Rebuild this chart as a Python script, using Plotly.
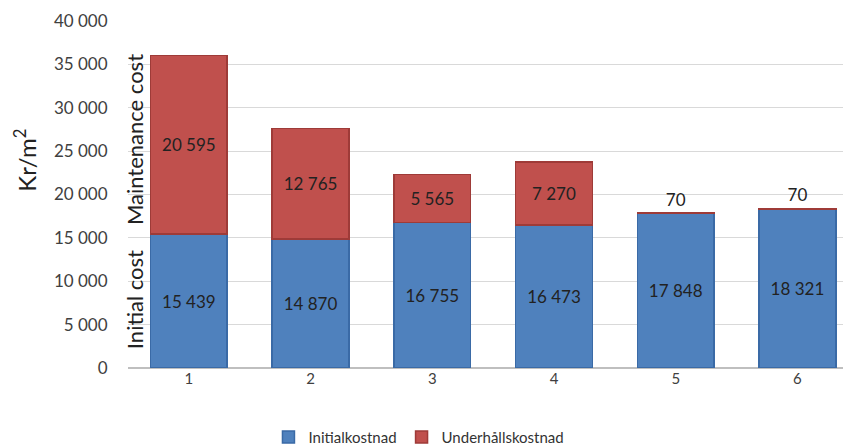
import plotly.graph_objects as go

categories = ["1", "2", "3", "4", "5", "6"]
initial = [15439, 14870, 16755, 16473, 17848, 18321]
maintenance = [20595, 12765, 5565, 7270, 70, 70]
series_names = ["Initialkostnad", "Underhållskostnad"]
y_ticks = [0, 5000, 10000, 15000, 20000, 25000, 30000, 35000, 40000]


def fmt(v):
    return f"{v:,}".replace(",", " ")


x_pos = list(range(1, len(categories) + 1))
FONT = "Lato, Open Sans, sans-serif"

fig = go.Figure()
fig.add_trace(go.Bar(
    x=x_pos, y=initial, name=series_names[0],
    marker=dict(color="#4F81BD", line=dict(color="#3A6AA6", width=1.5)),
    text=[fmt(v) for v in initial], textposition="inside", insidetextanchor="middle",
    textfont=dict(size=17, color="#222222", family=FONT),
    width=0.63,
))
fig.add_trace(go.Bar(
    x=x_pos, y=maintenance, name=series_names[1],
    marker=dict(color="#C0504D", line=dict(color="#9E3B38", width=1.5)),
    text=[fmt(v) for v in maintenance],
    textposition=["inside" if v > 1000 else "outside" for v in maintenance],
    insidetextanchor="middle",
    textfont=dict(size=17, color="#222222", family=FONT),
    width=0.63, cliponaxis=False,
))

fig.update_layout(
    barmode="stack",
    width=843, height=438,
    margin=dict(l=120, r=0, t=13, b=78, autoexpand=False),
    plot_bgcolor="white", paper_bgcolor="white",
    font=dict(family=FONT, color="#404040"),
    uniformtext=dict(minsize=17, mode="show"),
    showlegend=True,
    legend=dict(orientation="h", xref="container", yref="container",
                x=0.4875, xanchor="center", y=0.02, yanchor="middle",
                font=dict(size=15, color="#333333"), traceorder="normal",
                itemwidth=30, tracegroupgap=0),
    xaxis=dict(range=[0.5, 6.44], tickvals=x_pos, ticktext=categories,
               showgrid=False, zeroline=False, showline=False,
               tickfont=dict(size=15, color="#404040"), ticks=""),
    yaxis=dict(range=[0, 40000], tickvals=y_ticks, ticktext=[fmt(v) for v in y_ticks],
               showgrid=True, gridcolor="#D9D9D9", gridwidth=1,
               zeroline=True, zerolinecolor="#BFBFBF", zerolinewidth=2,
               showline=False, ticks="outside", ticklen=16, tickcolor="rgba(0,0,0,0)",
               tickfont=dict(size=17, color="#404040")),
    annotations=[
        dict(text="Kr/m<sup>2</sup>", xref="paper", yref="paper", x=-0.1425, y=0.6,
             xanchor="center", yanchor="middle", textangle=-90, showarrow=False,
             font=dict(size=24, color="#222222")),
        dict(text="Maintenance cost", xref="paper", yref="y", x=0.01, y=26300,
             xanchor="center", yanchor="middle", textangle=-90, showarrow=False,
             font=dict(size=22, color="#222222")),
        dict(text="Initial cost", xref="paper", yref="y", x=0.01, y=7850,
             xanchor="center", yanchor="middle", textangle=-90, showarrow=False,
             font=dict(size=22, color="#222222")),
    ],
)

fig.write_html("out.html")
